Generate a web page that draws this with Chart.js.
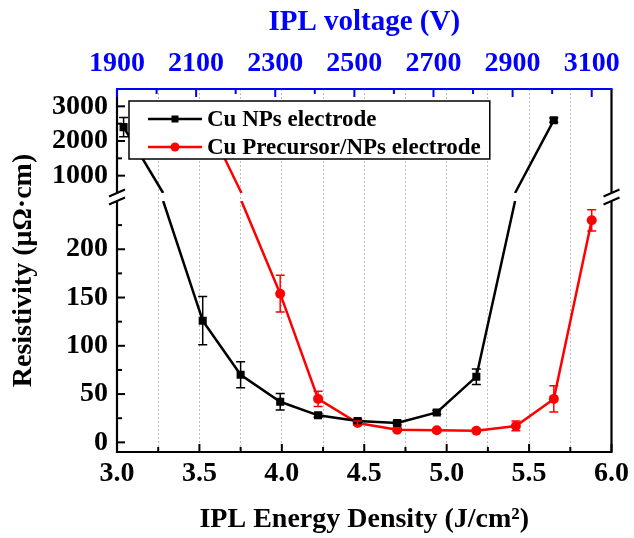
<!DOCTYPE html>
<html>
<head>
<meta charset="utf-8">
<title>Resistivity vs IPL energy density</title>
<script src="https://cdn.jsdelivr.net/npm/chart.js@4.4.0/dist/chart.umd.min.js"></script>
<style>
    html, body { margin: 0; padding: 0; background: #fff; }
    canvas { display: block; }
</style>
</head>
<body>
<canvas id="resistivityChart" width="634" height="538"></canvas>
<script>
// Cu NPs electrode: energy density (J/cm2), resistivity (uOhm.cm), error
const npsEnergy = [3.04, 3.52, 3.75, 3.99, 4.22, 4.46, 4.70, 4.94, 5.18, 5.65];
const npsResistivity = [2400, 126, 70, 42, 28, 22, 20, 31, 68, 2600];
const npsError = [280, 25, 13.5, 8.5, 2, 2, 2, 2, 8, 60];

// Cu Precursor/NPs electrode
const precursorEnergy = [3.52, 3.99, 4.22, 4.46, 4.70, 4.94, 5.18, 5.42, 5.65, 5.88];
const precursorResistivity = [2800, 154, 45, 20, 13, 12.5, 12, 17, 45, 230];
const precursorError = [0, 19, 8, 2, 1.5, 1.5, 1.5, 5, 13.5, 11];

// Tick values
const energyMajorTicks = [3.0, 3.5, 4.0, 4.5, 5.0, 5.5, 6.0];
const energyMinorTicks = [3.25, 3.75, 4.25, 4.75, 5.25, 5.75];
const voltageMajorTicks = [1900, 2100, 2300, 2500, 2700, 2900, 3100];
const voltageMinorTicks = [2000, 2200, 2400, 2600, 2800, 3000];
const resistivityMajorTicks = [0, 50, 100, 150, 200, 1000, 2000, 3000];
const resistivityMinorTicks = [25, 75, 125, 175, 225, 1500, 2500];

const FONT = '"Liberation Serif", "Times New Roman", serif';
const BLUE = '#0000ff';
const RED = '#ff0000';

// Linear scale with a break: values up to lowMax use the lower part,
// values from highMin use the upper part, with a small gap in between.
class BrokenLinearScale extends Chart.LinearScale {
    _parts() {
        const b = this.options.axisBreak;
        const h = this.bottom - this.top;
        return {
            b: b,
            yLow: this.bottom - h * b.lowWeight,
            yHigh: this.top + h * b.highWeight
        };
    }
    getPixelForValue(value) {
        const {b, yLow, yHigh} = this._parts();
        if (value <= b.lowMax) {
            return this.bottom - (value - this.min) / (b.lowMax - this.min) * (this.bottom - yLow);
        }
        if (value >= b.highMin) {
            return this.top + (this.max - value) / (this.max - b.highMin) * (yHigh - this.top);
        }
        return yLow + (value - b.lowMax) / (b.highMin - b.lowMax) * (yHigh - yLow);
    }
    getValueForPixel(pixel) {
        const {b, yLow, yHigh} = this._parts();
        if (pixel >= yLow) {
            return this.min + (this.bottom - pixel) / (this.bottom - yLow) * (b.lowMax - this.min);
        }
        if (pixel <= yHigh) {
            return this.max - (pixel - this.top) / (yHigh - this.top) * (this.max - b.highMin);
        }
        return b.lowMax + (yLow - pixel) / (yLow - yHigh) * (b.highMin - b.lowMax);
    }
}
BrokenLinearScale.id = 'brokenLinear';
BrokenLinearScale.defaults = Chart.LinearScale.defaults;
Chart.register(BrokenLinearScale);

function toPoints(xs, ys) {
    return xs.map((x, i) => ({x: x, y: ys[i]}));
}

function breakPixels(chart) {
    const y = chart.scales.y;
    const b = y.options.axisBreak;
    return {yLow: y.getPixelForValue(b.lowMax), yHigh: y.getPixelForValue(b.highMin), b: b};
}

function crossesBreak(v0, v1, b) {
    return (v0 >= b.highMin && v1 <= b.lowMax) || (v1 >= b.highMin && v0 <= b.lowMax);
}

const axisBreakPlugin = {
    id: 'axisBreakPlugin',
    beforeDatasetsDraw(chart) {
        const {ctx, chartArea} = chart;
        const {yLow, yHigh} = breakPixels(chart);
        ctx.save();
        ctx.beginPath();
        ctx.rect(0, 0, chart.width, chart.height);
        ctx.rect(chartArea.left - 20, yHigh, chartArea.width + 40, yLow - yHigh);
        ctx.clip('evenodd');
    },
    afterDatasetsDraw(chart) {
        const ctx = chart.ctx;
        const {yLow, yHigh, b} = breakPixels(chart);
        const yScale = chart.scales.y;

        chart.data.datasets.forEach((ds, i) => {
            const meta = chart.getDatasetMeta(i);
            ctx.strokeStyle = ds.borderColor;

            // lines that jump across the break meet it half way
            ctx.lineWidth = ds.borderWidth;
            for (let j = 0; j < meta.data.length - 1; j++) {
                const v0 = ds.data[j].y, v1 = ds.data[j + 1].y;
                if (!crossesBreak(v0, v1, b)) continue;
                const p0 = meta.data[j], p1 = meta.data[j + 1];
                const xm = (p0.x + p1.x) / 2;
                const up = v0 > v1 ? p0 : p1;
                const low = v0 > v1 ? p1 : p0;
                ctx.beginPath();
                ctx.moveTo(up.x, up.y);
                ctx.lineTo(xm, yHigh);
                ctx.moveTo(xm, yLow);
                ctx.lineTo(low.x, low.y);
                ctx.stroke();
            }

            // error bars
            ctx.lineWidth = 1.5;
            meta.data.forEach((pt, j) => {
                const e = ds.errorBars[j];
                if (!e) return;
                const v = ds.data[j].y;
                const top = yScale.getPixelForValue(v + e);
                const bot = yScale.getPixelForValue(v - e);
                ctx.beginPath();
                ctx.moveTo(pt.x, top);
                ctx.lineTo(pt.x, bot);
                ctx.moveTo(pt.x - 4.5, top);
                ctx.lineTo(pt.x + 4.5, top);
                ctx.moveTo(pt.x - 4.5, bot);
                ctx.lineTo(pt.x + 4.5, bot);
                ctx.stroke();
            });
        });
        ctx.restore();
    },
    afterDraw(chart) {
        const {ctx, chartArea: a, scales} = chart;
        const {yLow, yHigh} = breakPixels(chart);

        ctx.save();
        ctx.lineCap = 'butt';

        // frame
        ctx.lineWidth = 2.2;
        ctx.strokeStyle = '#000';
        ctx.beginPath();
        ctx.moveTo(a.left, a.top);
        ctx.lineTo(a.left, a.bottom);
        ctx.lineTo(a.right, a.bottom);
        ctx.lineTo(a.right, a.top);
        ctx.stroke();
        ctx.strokeStyle = BLUE;
        ctx.beginPath();
        ctx.moveTo(a.left - 1, a.top);
        ctx.lineTo(a.right + 1, a.top);
        ctx.stroke();

        // inward tick marks
        const tick = (x1, y1, x2, y2) => {
            ctx.beginPath();
            ctx.moveTo(x1, y1);
            ctx.lineTo(x2, y2);
            ctx.stroke();
        };
        ctx.lineWidth = 2;
        ctx.strokeStyle = '#000';
        energyMajorTicks.forEach(v => {
            const x = scales.x.getPixelForValue(v);
            tick(x, a.bottom, x, a.bottom - 8);
        });
        energyMinorTicks.forEach(v => {
            const x = scales.x.getPixelForValue(v);
            tick(x, a.bottom, x, a.bottom - 5);
        });
        resistivityMajorTicks.forEach(v => {
            const y = scales.y.getPixelForValue(v);
            tick(a.left, y, a.left + 8, y);
        });
        resistivityMinorTicks.forEach(v => {
            const y = scales.y.getPixelForValue(v);
            tick(a.left, y, a.left + 5, y);
        });
        ctx.strokeStyle = BLUE;
        voltageMajorTicks.forEach(v => {
            const x = scales.x2.getPixelForValue(v);
            tick(x, a.top, x, a.top + 8);
        });
        voltageMinorTicks.forEach(v => {
            const x = scales.x2.getPixelForValue(v);
            tick(x, a.top, x, a.top + 5);
        });

        // break marks on both vertical axes
        [a.left, a.right].forEach(x => {
            ctx.fillStyle = '#fff';
            ctx.fillRect(x - 2, yHigh, 4, yLow - yHigh);
            ctx.strokeStyle = '#000';
            ctx.lineWidth = 2;
            [yHigh, yLow].forEach(yy => tick(x - 8, yy + 3.5, x + 8, yy - 3.5));
        });

        // legend box inside the plot
        ctx.font = 'bold 23px ' + FONT;
        const labels = chart.data.datasets.map(ds => ds.label);
        const textW = Math.max(...labels.map(t => ctx.measureText(t).width));
        const bx = a.left + 12, by = a.top + 12;
        const bw = 78 + textW + 9, bh = 58;
        ctx.fillStyle = '#fff';
        ctx.fillRect(bx, by, bw, bh);
        ctx.lineWidth = 1.5;
        ctx.strokeStyle = '#000';
        ctx.strokeRect(bx, by, bw, bh);

        chart.data.datasets.forEach((ds, i) => {
            const cy = by + 18 + i * 28;
            ctx.strokeStyle = ds.borderColor;
            ctx.lineWidth = ds.borderWidth;
            tick(bx + 19, cy, bx + 73, cy);
            ctx.fillStyle = ds.borderColor;
            if (ds.pointStyle === 'rect') {
                ctx.fillRect(bx + 46 - 3.5, cy - 3.5, 7, 7);
            } else {
                ctx.beginPath();
                ctx.arc(bx + 46, cy, 4.5, 0, Math.PI * 2);
                ctx.fill();
            }
            ctx.fillStyle = '#000';
            ctx.textBaseline = 'middle';
            ctx.textAlign = 'left';
            ctx.fillText(ds.label, bx + 78, cy + 1);
        });
        ctx.restore();
    }
};

function initResistivityChart() {
    const ctx = document.getElementById('resistivityChart').getContext('2d');
    Chart.defaults.font.family = FONT;

    const segmentColor = color => ({
        borderColor: c => {
            const b = c.chart.options.scales.y.axisBreak;
            return crossesBreak(c.p0.parsed.y, c.p1.parsed.y, b) ? 'transparent' : color;
        }
    });

    new Chart(ctx, {
        type: 'line',
        data: {
            datasets: [{
                label: 'Cu NPs electrode',
                data: toPoints(npsEnergy, npsResistivity),
                errorBars: npsError,
                borderColor: '#000',
                backgroundColor: '#000',
                borderWidth: 2.5,
                pointStyle: 'rect',
                pointRadius: 5.7,
                pointBorderWidth: 0,
                segment: segmentColor('#000')
            }, {
                label: 'Cu Precursor/NPs electrode',
                data: toPoints(precursorEnergy, precursorResistivity),
                errorBars: precursorError,
                borderColor: RED,
                backgroundColor: RED,
                borderWidth: 2.5,
                pointStyle: 'circle',
                pointRadius: 5,
                pointBorderWidth: 0,
                segment: segmentColor(RED)
            }]
        },
        options: {
            responsive: false,
            animation: false,
            events: [],
            layout: { padding: { left: 0, right: 21, top: 0, bottom: 0 } },
            plugins: {
                legend: { display: false },
                tooltip: { enabled: false }
            },
            scales: {
                x: {
                    type: 'linear',
                    position: 'bottom',
                    min: 3,
                    max: 6,
                    afterFit: scale => { scale.height = 86; },
                    afterBuildTicks: scale => {
                        scale.ticks = energyMajorTicks.concat(energyMinorTicks)
                            .sort((p, q) => p - q)
                            .map(v => ({value: v}));
                    },
                    ticks: {
                        autoSkip: false,
                        maxRotation: 0,
                        padding: 5,
                        color: '#000',
                        font: { size: 28, weight: 'bold' },
                        callback: value => energyMajorTicks.includes(value) ? value.toFixed(1) : ''
                    },
                    grid: { color: '#bdbdbd', lineWidth: 1, drawTicks: false },
                    border: { display: false, dash: [2, 2] },
                    title: {
                        display: true,
                        text: 'IPL Energy Density (J/cm²)',
                        color: '#000',
                        font: { size: 28, weight: 'bold', lineHeight: 1 },
                        padding: { top: 0, bottom: 4 }
                    }
                },
                x2: {
                    type: 'linear',
                    position: 'top',
                    min: 1900,
                    max: 3150,
                    afterFit: scale => { scale.height = 89; },
                    afterBuildTicks: scale => {
                        scale.ticks = voltageMajorTicks.concat(voltageMinorTicks)
                            .sort((p, q) => p - q)
                            .map(v => ({value: v}));
                    },
                    ticks: {
                        autoSkip: false,
                        maxRotation: 0,
                        padding: 8,
                        color: BLUE,
                        font: { size: 28, weight: 'bold' },
                        callback: value => voltageMajorTicks.includes(value) ? String(value) : ''
                    },
                    grid: { display: false, drawTicks: false },
                    border: { display: false },
                    title: {
                        display: true,
                        text: 'IPL voltage (V)',
                        color: BLUE,
                        font: { size: 29, weight: 'bold', lineHeight: 1 },
                        padding: { top: 8, bottom: 0 }
                    }
                },
                y: {
                    type: 'brokenLinear',
                    position: 'left',
                    min: -10,
                    max: 3500,
                    axisBreak: { lowMax: 250, highMin: 500, lowWeight: 0.6915, highWeight: 0.2865 },
                    afterFit: scale => { scale.width = 117; },
                    afterBuildTicks: scale => {
                        scale.ticks = resistivityMajorTicks.map(v => ({value: v}));
                    },
                    ticks: {
                        autoSkip: false,
                        padding: 9,
                        color: '#000',
                        font: { size: 28, weight: 'bold' },
                        callback: value => String(value)
                    },
                    grid: { display: false, drawTicks: false },
                    border: { display: false },
                    title: {
                        display: true,
                        text: 'Resistivity (μΩ·cm)',
                        color: '#000',
                        font: { size: 28, weight: 'bold', lineHeight: 1 },
                        padding: { top: 10, bottom: 0 }
                    }
                }
            }
        },
        plugins: [axisBreakPlugin]
    });
}

document.addEventListener('DOMContentLoaded', function() {
    initResistivityChart();
});
</script>
</body>
</html>
